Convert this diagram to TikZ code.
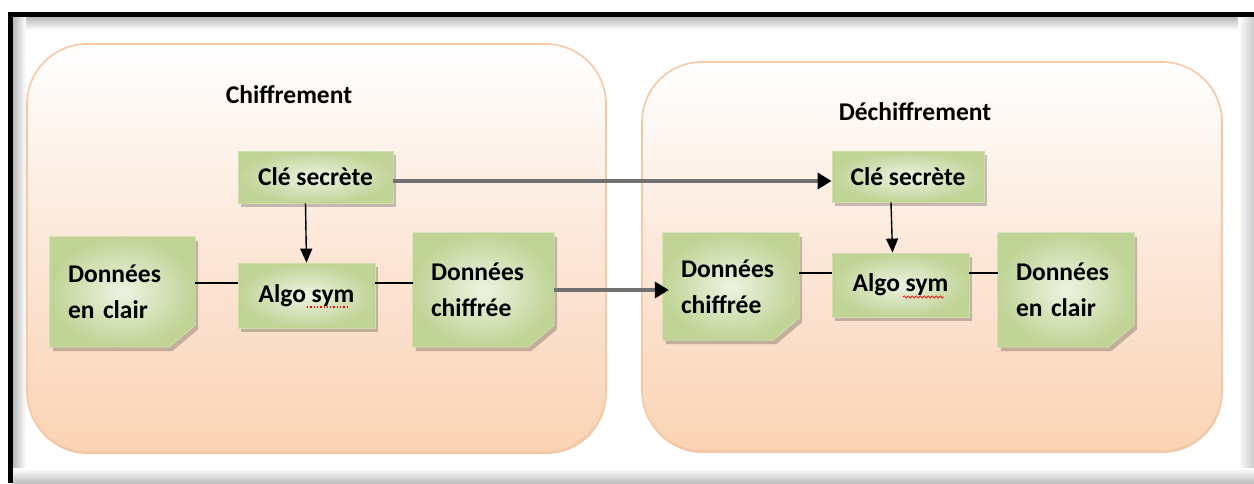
\documentclass[tikz,border=0pt]{standalone}
\usepackage{fontspec}
\setmainfont{Carlito}
\usetikzlibrary{arrows.meta,shadows,calc,decorations.pathmorphing}

\definecolor{greenin}{RGB}{237,243,226}
\definecolor{greenout}{RGB}{192,212,150}
\definecolor{nodeedge}{RGB}{205,221,172}
\definecolor{stageedge}{RGB}{247,200,164}
\definecolor{stagebot}{RGB}{250,211,180}
\definecolor{stagemid}{RGB}{252,231,216}
\definecolor{stageshade}{RGB}{222,165,122}
\definecolor{relaygray}{RGB}{112,112,112}

\pgfdeclarelayer{back}
\pgfdeclarelayer{mid}
\pgfsetlayers{back,mid,main}

\begin{document}
\begin{tikzpicture}[x=1pt,y=-1pt,
  lbl/.style={font=\bfseries\fontsize{25.5}{36}\selectfont},
  greenfill/.style={draw=nodeedge, line width=0.8pt, inner color=greenin, outer color=greenout,
    drop shadow={shadow xshift=3pt, shadow yshift=-4pt, opacity=0.22, fill=black}},
  keybox/.style={lbl, greenfill, rectangle, inner sep=0pt},
  doctext/.style={lbl, rectangle, inner ysep=0pt, inner xsep=18pt, align=left},
  docshape/.style={greenfill},
  stage/.style={draw=stageedge, line width=1.6pt, rounded corners=60pt,
    top color=white, bottom color=stagebot, middle color=stagemid,
    drop shadow={shadow xshift=0.5pt, shadow yshift=-2pt, opacity=0.6, fill=stageshade}},
  link/.style={line width=1.4pt, black},
  down/.style={line width=1.4pt, black, -{Triangle[length=14pt,width=12pt]}},
  relay/.style={line width=3.5pt, relaygray, -{Triangle[length=14pt,width=16pt,color=black]}},
  dots/.style={red, line width=1.3pt, dash pattern=on 1.3pt off 2pt},
  squiggle/.style={red, line width=0.7pt, decorate, decoration={snake, amplitude=1.2pt, segment length=4pt}},
]
\useasboundingbox (0,0) rectangle (1254,483);

% page frame with its inner shadow
\begin{pgfonlayer}{back}
  \fill[white] (0,0) rectangle (1254,483);
  \shade[top color=gray!55, bottom color=white] (13,17) rectangle (1254,30);
  \shade[left color=gray!55, right color=white] (13,17) rectangle (26,483);
  \shade[left color=white, right color=gray!40] (1238,17) rectangle (1254,483);
  \shade[top color=white, bottom color=gray!50] (13,468) rectangle (1254,483);
  \draw[line width=5pt, black] (10.5,483) -- (10.5,14) -- (1254,14);

  % the two stages
  \node[stage, minimum width=579pt, minimum height=408pt] (enc) at (316.5,248) {};
  \node[stage, minimum width=580pt, minimum height=389pt] (dec) at (932,256.5) {};
\end{pgfonlayer}

\node[lbl] (t1) at (289,95) {Chiffrement};
\node[lbl] (t2) at (915,112) {Déchiffrement};

% encryption side
\node[keybox, minimum width=155pt, minimum height=52pt] (cle1) at (315.5,177) {Clé secrète};
\node[keybox, minimum width=137pt, minimum height=65pt] (algo1) at (306.5,295.5) {Algo sym};
\node[doctext, text width=109pt, minimum height=110pt] (clair1) at (122.5,292) {Données\\en clair};
\node[doctext, text width=105pt, minimum height=114pt] (chif1) at (483.5,290) {Données\\chiffrée};

% decryption side
\node[keybox, minimum width=152pt, minimum height=51pt] (cle2) at (908,176.5) {Clé secrète};
\node[keybox, minimum width=137pt, minimum height=64pt] (algo2) at (900.5,285) {Algo sym};
\node[doctext, text width=100pt, minimum height=107pt] (chif2) at (731,286.5) {Données\\chiffrée};
\node[doctext, text width=100pt, minimum height=114pt] (clair2) at (1066,290) {Données\\en clair};

% document shapes with the snipped corner
\begin{pgfonlayer}{mid}
  \foreach \d in {clair1,chif1,chif2,clair2}{
    \path[docshape] (\d.north west) -- (\d.north east) -- ([yshift=22pt]\d.south east)
      -- ([xshift=-26pt]\d.south east) -- (\d.south west) -- cycle;
  }
\end{pgfonlayer}

% spelling marks under "sym"
\draw[dots] ($(algo1.center)+(0.5,11.5)$) -- ($(algo1.center)+(42.5,11.5)$);
\draw[squiggle] ($(algo2.center)+(2.5,12)$) -- ($(algo2.center)+(43.5,12)$);

% connectors
\coordinate (a1) at ($(algo1.west)+(0,-12.5)$);
\coordinate (b1) at ($(algo1.east)+(0,-12.5)$);
\coordinate (a2) at ($(algo2.west)+(0,-12)$);
\coordinate (b2) at ($(algo2.east)+(0,-12)$);
\draw[link] (a1 -| clair1.east) -- (a1);
\draw[link] (b1) -- (b1 -| chif1.west);
\draw[link] (a2 -| chif2.east) -- (a2);
\draw[link] (b2) -- (b2 -| clair2.west);

\draw[down] ([xshift=-10pt]cle1.south) -- (algo1.north);
\draw[down] ([xshift=-17pt]cle2.south) -- ([xshift=-8pt]algo2.north);

\draw[relay] ([yshift=-4pt]cle1.east) -- ([yshift=-4.5pt]cle2.west);
\draw[relay] (chif1.east) -- ([xshift=6pt]chif1.east -| chif2.west);
\end{tikzpicture}
\end{document}
